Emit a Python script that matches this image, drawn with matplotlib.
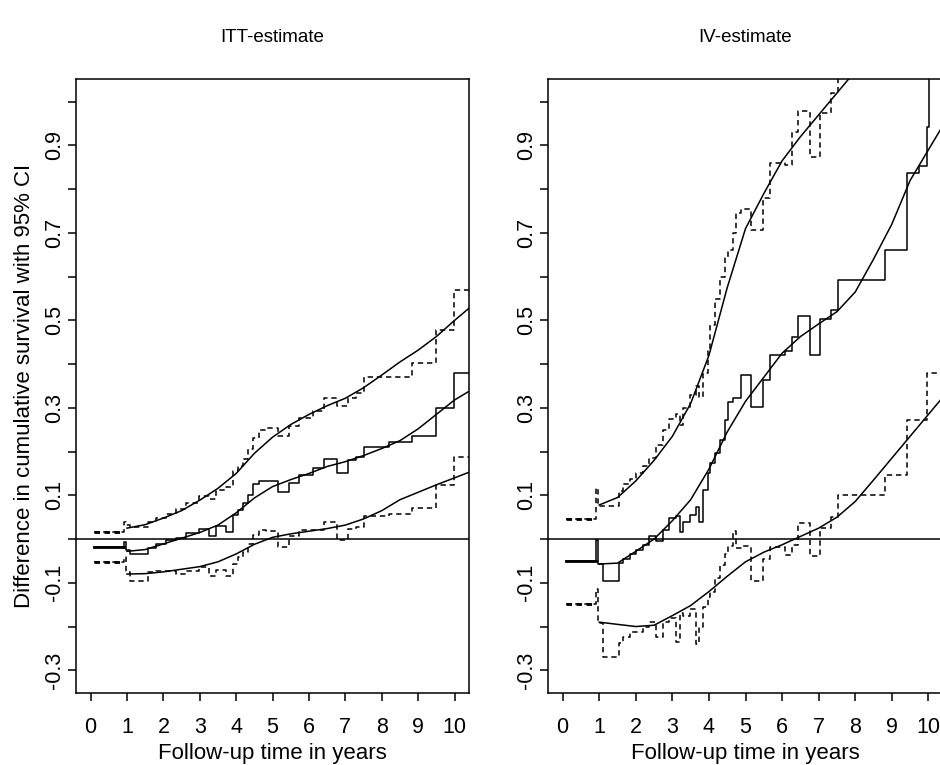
import numpy as np
import matplotlib
matplotlib.use("Agg")
import matplotlib.pyplot as plt

plt.rcParams['font.family'] = ['Liberation Sans', 'DejaVu Sans']

# ITT panel: step start times (last entry = end of the step curve)
itt_times = [0.10, 0.91, 0.98, 1.08, 1.58, 1.81, 2.08, 2.36, 2.63, 2.99, 3.25, 3.45, 3.72,
             3.91, 4.04, 4.18, 4.32, 4.46, 4.64, 4.82, 5.14, 5.46, 5.73, 6.10, 6.42, 6.78,
             7.06, 7.29, 7.51, 8.20, 8.84, 9.48, 9.98, 10.5]
itt_est = [-0.019, -0.006, -0.025, -0.034, -0.021, -0.011, -0.002, 0.002, 0.014, 0.022, 0.007,
           0.029, 0.017, 0.055, 0.066, 0.082, 0.101, 0.126, 0.133, 0.133, 0.108, 0.129, 0.147,
           0.162, 0.182, 0.150, 0.181, 0.188, 0.211, 0.222, 0.235, 0.299, 0.379]
itt_upper = [0.017, 0.040, 0.032, 0.027, 0.040, 0.048, 0.058, 0.068, 0.082, 0.099, 0.092,
             0.112, 0.120, 0.155, 0.168, 0.182, 0.205, 0.232, 0.250, 0.253, 0.235, 0.258, 0.278,
             0.293, 0.322, 0.305, 0.322, 0.333, 0.371, 0.371, 0.402, 0.478, 0.569]
itt_lower = [-0.052, -0.042, -0.075, -0.097, -0.076, -0.074, -0.072, -0.080, -0.072, -0.063, -0.085,
             -0.071, -0.085, -0.058, -0.040, -0.030, -0.012, 0.010, 0.020, 0.018, -0.019, 0.006, 0.020,
             0.021, 0.038, -0.002, 0.023, 0.027, 0.052, 0.057, 0.071, 0.124, 0.187]

# IV panel
iv_times = [0.09, 0.90, 0.97, 1.10, 1.55, 1.64, 1.83, 2.01, 2.19, 2.37, 2.56, 2.74, 2.92, 3.10,
            3.20, 3.29, 3.47, 3.65, 3.74, 3.83, 3.97, 4.02, 4.16, 4.29, 4.43, 4.52, 4.66, 4.75,
            4.89, 5.16, 5.48, 5.66, 6.07, 6.26, 6.44, 6.76, 7.03, 7.35, 7.53, 8.81, 9.41, 9.73,
            9.95, 10.03, 10.6]
iv_est = [-0.050, -0.002, -0.057, -0.095, -0.055, -0.046, -0.034, -0.025, -0.013, 0.006, -0.005,
          0.021, 0.048, 0.052, 0.017, 0.040, 0.055, 0.074, 0.040, 0.112, 0.150, 0.173, 0.196,
          0.226, 0.272, 0.314, 0.322, 0.322, 0.375, 0.303, 0.364, 0.420, 0.430, 0.462, 0.510,
          0.420, 0.504, 0.523, 0.592, 0.660, 0.836, 0.853, 0.943, 1.200]
iv_upper = [0.045, 0.116, 0.075, 0.075, 0.111, 0.125, 0.138, 0.150, 0.168, 0.185, 0.215,
            0.250, 0.275, 0.285, 0.262, 0.300, 0.330, 0.350, 0.325, 0.380, 0.430, 0.490, 0.550,
            0.600, 0.645, 0.660, 0.700, 0.745, 0.755, 0.707, 0.780, 0.859, 0.855, 0.930, 0.980,
            0.874, 0.975, 1.020, 1.100, 1.200, 1.250, 1.300, 1.350, 1.400]
iv_lower = [-0.149, -0.115, -0.193, -0.269, -0.238, -0.223, -0.212, -0.212, -0.200, -0.190, -0.225,
            -0.190, -0.180, -0.235, -0.170, -0.175, -0.160, -0.240, -0.200, -0.155, -0.132, -0.120,
            -0.090, -0.060, -0.035, -0.015, 0.018, -0.020, -0.016, -0.095, -0.045, -0.018, -0.037,
            -0.013, 0.036, -0.039, 0.025, 0.050, 0.100, 0.146, 0.272, 0.272, 0.380, 0.380]

# smoothed curves
smooth_t = [1.0, 1.5, 2.0, 2.5, 3.0, 3.5, 4.0, 4.5, 5.0, 5.5, 6.0, 6.5, 7.0, 7.5, 8.0, 8.5,
            9.0, 9.5, 10.0, 10.5]
itt_est_smooth = [-0.028, -0.024, -0.011, 0.002, 0.015, 0.032, 0.060, 0.094, 0.120, 0.136,
                  0.150, 0.166, 0.177, 0.191, 0.207, 0.225, 0.252, 0.285, 0.318, 0.343]
itt_upper_smooth = [0.025, 0.033, 0.048, 0.065, 0.089, 0.116, 0.150, 0.196, 0.233, 0.262,
                    0.285, 0.305, 0.322, 0.346, 0.375, 0.405, 0.432, 0.463, 0.500, 0.535]
itt_lower_smooth = [-0.080, -0.079, -0.075, -0.069, -0.063, -0.052, -0.034, -0.012, 0.004, 0.012,
                    0.018, 0.024, 0.032, 0.046, 0.065, 0.090, 0.107, 0.124, 0.140, 0.156]
iv_est_smooth = [-0.057, -0.055, -0.028, 0.000, 0.042, 0.090, 0.160, 0.245, 0.315, 0.370,
                 0.425, 0.463, 0.492, 0.520, 0.565, 0.640, 0.720, 0.820, 0.890, 0.960]
iv_upper_smooth = [0.078, 0.095, 0.133, 0.180, 0.235, 0.310, 0.420, 0.575, 0.710, 0.790,
                   0.865, 0.920, 0.970, 1.020, 1.070, 1.120, 1.170, 1.220, 1.270, 1.320]
iv_lower_smooth = [-0.190, -0.195, -0.200, -0.197, -0.175, -0.152, -0.120, -0.085, -0.052, -0.030,
                   -0.013, 0.006, 0.025, 0.050, 0.086, 0.135, 0.185, 0.235, 0.285, 0.335]

x_ticks = list(range(0, 11))
y_ticks = [-0.3, -0.2, -0.1, 0.0, 0.1, 0.2, 0.3, 0.4, 0.5, 0.6, 0.7, 0.8, 0.9, 1.0]
y_labels = ['-0.3', '', '-0.1', '', '0.1', '', '0.3', '', '0.5', '', '0.7', '', '0.9', '']

TITLE_FS = 13.5
LABEL_FS = 16
TICK_FS = 15.5
LW = 1.1


def draw_step(ax, times, vals, dashed):
    y = list(vals) + [vals[-1]]
    line, = ax.step(times, y, where='post', color='black', lw=LW)
    # first (pre-event) segment looks heavier in the original
    first, = ax.plot(times[:2], [vals[0], vals[0]], color='black', lw=2.0)
    if dashed:
        line.set_dashes((3.5, 2.5))
        first.set_dashes((2.0, 1.6))


def panel(ax, title, times, est, upper, lower, s_est, s_up, s_lo, ylabel=None):
    ax.axhline(0, color='black', lw=LW)
    draw_step(ax, times, est, False)
    draw_step(ax, times, upper, True)
    draw_step(ax, times, lower, True)
    for s in (s_est, s_up, s_lo):
        ax.plot(smooth_t, s, color='black', lw=LW)

    ax.set_xlim(-0.4, 10.4)
    ax.set_ylim(-0.352, 1.052)
    ax.set_xticks(x_ticks)
    ax.set_xticklabels([str(t) for t in x_ticks])
    ax.set_yticks(y_ticks)
    ax.set_yticklabels(y_labels, rotation=90, va='center')
    ax.tick_params(direction='out', length=5.8, width=1.1, labelsize=TICK_FS)
    ax.tick_params(axis='x', pad=11.5)
    ax.tick_params(axis='y', pad=2)
    for sp in ax.spines.values():
        sp.set_linewidth(1.1)
    ax.set_title(title, fontsize=TITLE_FS, pad=27)
    ax.set_xlabel('Follow-up time in years', fontsize=LABEL_FS, labelpad=3.5)
    if ylabel:
        ax.set_ylabel(ylabel, fontsize=LABEL_FS, labelpad=6.5)


fig = plt.figure(figsize=(9.4, 7.65), dpi=100)
ax1 = fig.add_axes([0.0809, 0.0941, 0.4181, 0.8026])
ax2 = fig.add_axes([0.5830, 0.0941, 0.4202, 0.8026])

panel(ax1, 'ITT-estimate', itt_times, itt_est, itt_upper, itt_lower,
      itt_est_smooth, itt_upper_smooth, itt_lower_smooth,
      ylabel='Difference in cumulative survival with 95% CI')
panel(ax2, 'IV-estimate', iv_times, iv_est, iv_upper, iv_lower,
      iv_est_smooth, iv_upper_smooth, iv_lower_smooth)

fig.savefig('out.png', dpi=100)
